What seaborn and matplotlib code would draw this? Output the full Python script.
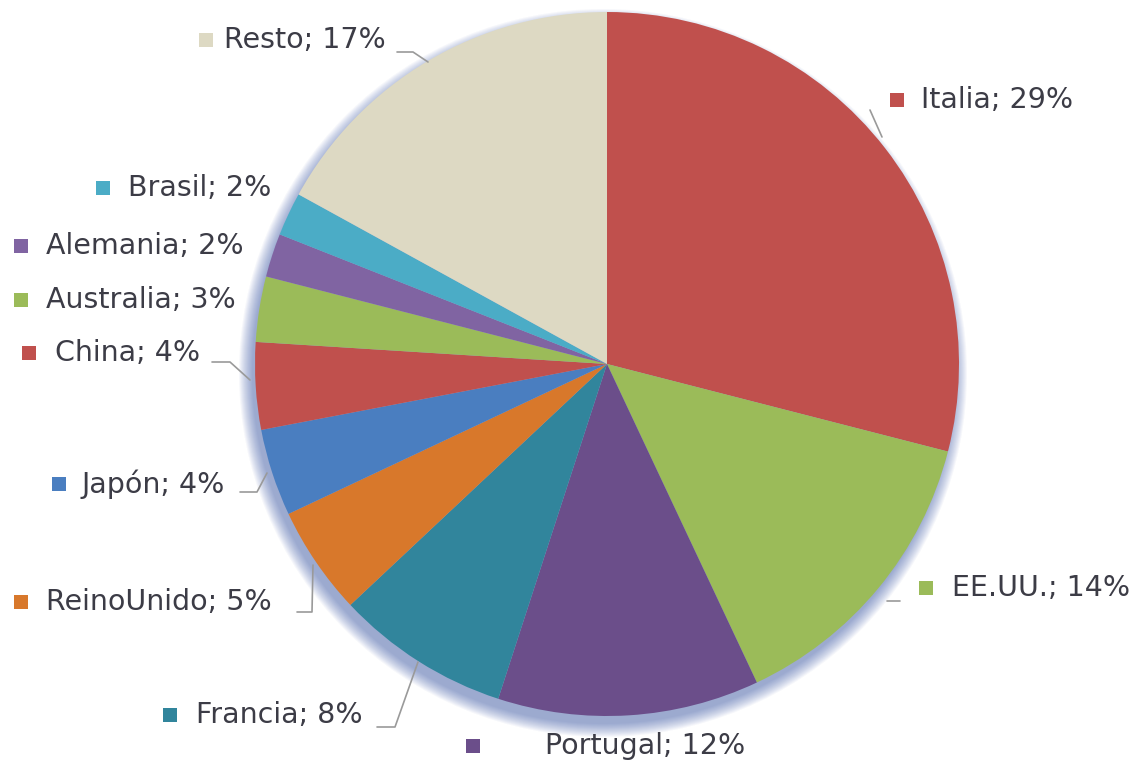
import matplotlib
matplotlib.use('Agg')
import matplotlib.pyplot as plt
from matplotlib.patches import Circle
import seaborn as sns

# data, clockwise from 12 o'clock
countries = ['Italia', 'EE.UU.', 'Portugal', 'Francia', 'Reino Unido', 'Japón',
             'China', 'Australia', 'Alemania', 'Brasil', 'Resto']
shares = [29, 14, 12, 8, 5, 4, 4, 3, 2, 2, 17]
label_texts = ['Italia; 29%', 'EE.UU.; 14%', 'Portugal; 12%', 'Francia; 8%', 'ReinoUnido; 5%',
               'Japón; 4%', 'China; 4%', 'Australia; 3%', 'Alemania; 2%', 'Brasil; 2%', 'Resto; 17%']
slice_colors = ['#C0504D', '#9BBB59', '#6B4E8A', '#31859C', '#D8782B', '#4A7EC0',
                '#C0504D', '#9BBB59', '#8064A2', '#4BACC6', '#DDD9C3']

W, H = 1131, 763
# layout in image pixels (y down): marker centre, text start
label_layout = {
    'Italia': (897, 100, 921),
    'EE.UU.': (926, 588, 952),
    'Portugal': (473, 746, 545),
    'Francia': (170, 715, 196),
    'Reino Unido': (21, 602, 46),
    'Japón': (59, 484, 82),
    'China': (29, 353, 55),
    'Australia': (21, 300, 46),
    'Alemania': (21, 246, 46),
    'Brasil': (103, 188, 128),
    'Resto': (206, 40, 224),
}
leaders = {
    'Resto': [(397, 52), (413, 52), (428, 62)],
    'Italia': [(870, 110), (882, 137)],
    'China': [(212, 362), (230, 362), (250, 380)],
    'Japón': [(240, 492), (257, 492), (267, 473)],
    'Reino Unido': [(297, 612), (312, 612), (313, 565)],
    'Francia': [(377, 727), (395, 727), (418, 662)],
    'EE.UU.': [(887, 601), (900, 601)],
}
cx, cy, R = 607, 364, 352

sns.set_theme(style='white')
plt.rcParams['font.family'] = ['DejaVu Sans']

fig = plt.figure(figsize=(W / 100, H / 100), dpi=100)
ax = fig.add_axes([0, 0, 1, 1])

def flip(y):
    return H - y

# soft bluish shadow under the pie, shifted down-left
for i in range(14):
    ax.add_patch(Circle((cx - 4, flip(cy) - 9), R + 12 - i, color='#3352a3', alpha=0.045, lw=0, zorder=0))

ax.pie(shares, colors=slice_colors, startangle=90, counterclock=False,
       center=(cx, flip(cy)), radius=R, wedgeprops=dict(linewidth=0), frame=True)

for name, txt, col in zip(countries, label_texts, slice_colors):
    mx, my, tx = label_layout[name]
    ax.scatter([mx], [flip(my)], marker='s', s=110, color=col, linewidths=0, zorder=5)
    ax.text(tx, flip(my), txt, fontsize=20.5, color='#3c3c46', va='center', ha='left', zorder=5)

for name, pts in leaders.items():
    xs = [p[0] for p in pts]
    ys = [flip(p[1]) for p in pts]
    ax.plot(xs, ys, color='#9a9a9a', lw=1.2, zorder=4)

ax.set_xlim(0, W)
ax.set_ylim(0, H)
ax.set_aspect('equal')
ax.axis('off')
fig.savefig('out.png', dpi=100, facecolor='white')
